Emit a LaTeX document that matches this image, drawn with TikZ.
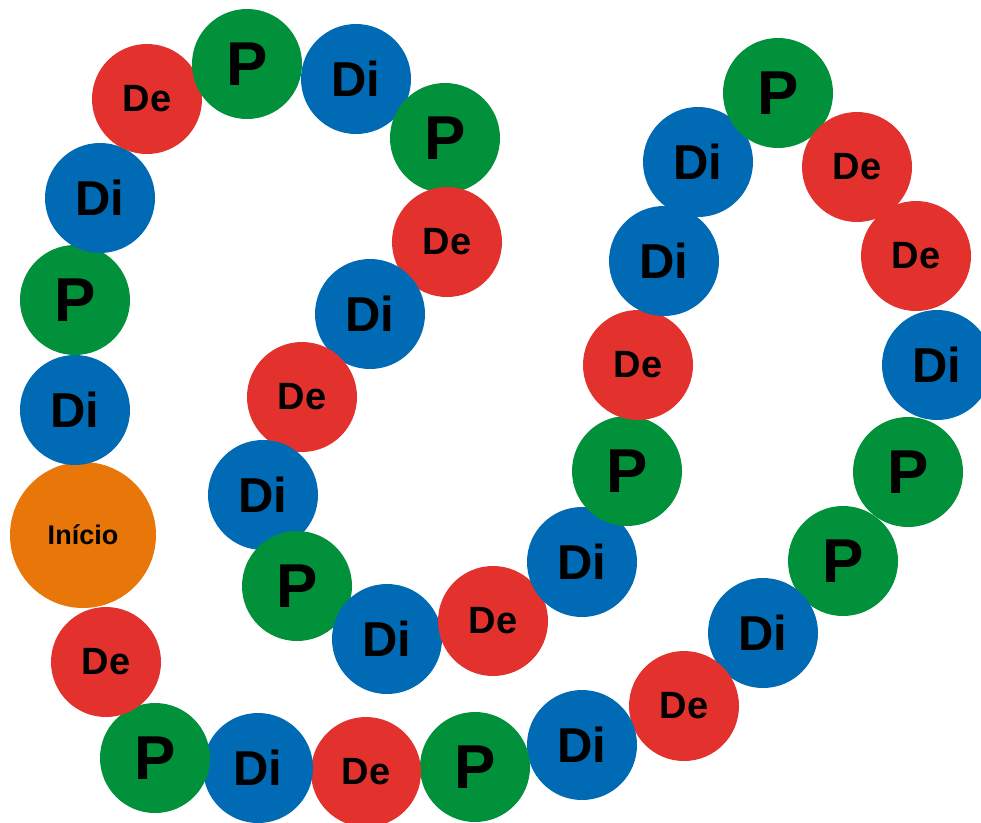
\documentclass[tikz,border=0pt]{standalone}
\usepackage{fontspec}
\setmainfont{Liberation Sans}
\definecolor{cred}{RGB}{227,50,45}
\definecolor{cgreen}{RGB}{0,145,58}
\definecolor{cblue}{RGB}{0,106,180}
\definecolor{corange}{RGB}{232,118,8}
\tikzset{
  disc/.style={circle, minimum size=110pt, inner sep=0pt, text=black},
  pdisc/.style={disc, fill=cgreen, font=\fontsize{62}{62}\selectfont\bfseries},
  didisc/.style={disc, fill=cblue, font=\fontsize{49}{49}\selectfont\bfseries},
  dedisc/.style={disc, fill=cred, font=\fontsize{38}{38}\selectfont\bfseries},
  startdisc/.style={circle, minimum size=146pt, inner sep=0pt, fill=corange, text=black, font=\fontsize{27}{27}\selectfont\bfseries}
}
\begin{document}
\begin{tikzpicture}[x=1pt,y=-1pt]
\useasboundingbox (0,0) rectangle (981,822);
\clip (0,0) rectangle (981,822);
\fill[white] (0,0) rectangle (981,822);
\node[startdisc] (s0) at (83,535) {Início};
\node[didisc] (s1) at (75,410) {Di};
\node[pdisc] (s2) at (75,300) {P};
\node[didisc] (s3) at (100,198) {Di};
\node[dedisc] (s4) at (147,99) {De};
\node[pdisc] (s5) at (247,64) {P};
\node[didisc] (s6) at (356,79) {Di};
\node[pdisc] (s7) at (445,138) {P};
\node[dedisc] (s8) at (447,242) {De};
\node[didisc] (s9) at (370,314) {Di};
\node[dedisc] (s10) at (302,397) {De};
\node[didisc] (s11) at (263,495) {Di};
\node[pdisc] (s12) at (297,586) {P};
\node[didisc] (s13) at (387,639) {Di};
\node[dedisc] (s14) at (493,621) {De};
\node[didisc] (s15) at (582,562) {Di};
\node[pdisc] (s16) at (627,471) {P};
\node[dedisc] (s17) at (638,365) {De};
\node[didisc] (s18) at (664,261) {Di};
\node[didisc] (s19) at (698,162) {Di};
\node[pdisc] (s20) at (778,93) {P};
\node[dedisc] (s21) at (857,167) {De};
\node[dedisc] (s22) at (916,256) {De};
\node[didisc] (s23) at (937,365) {Di};
\node[pdisc] (s24) at (908,472) {P};
\node[pdisc] (s25) at (843,561) {P};
\node[didisc] (s26) at (763,633) {Di};
\node[dedisc] (s27) at (684,706) {De};
\node[didisc] (s28) at (582,745) {Di};
\node[pdisc] (s29) at (475,767) {P};
\node[dedisc] (s30) at (366,772) {De};
\node[didisc] (s31) at (258,768) {Di};
\node[pdisc] (s32) at (155,758) {P};
\node[dedisc] (s33) at (106,662) {De};
\end{tikzpicture}
\end{document}
